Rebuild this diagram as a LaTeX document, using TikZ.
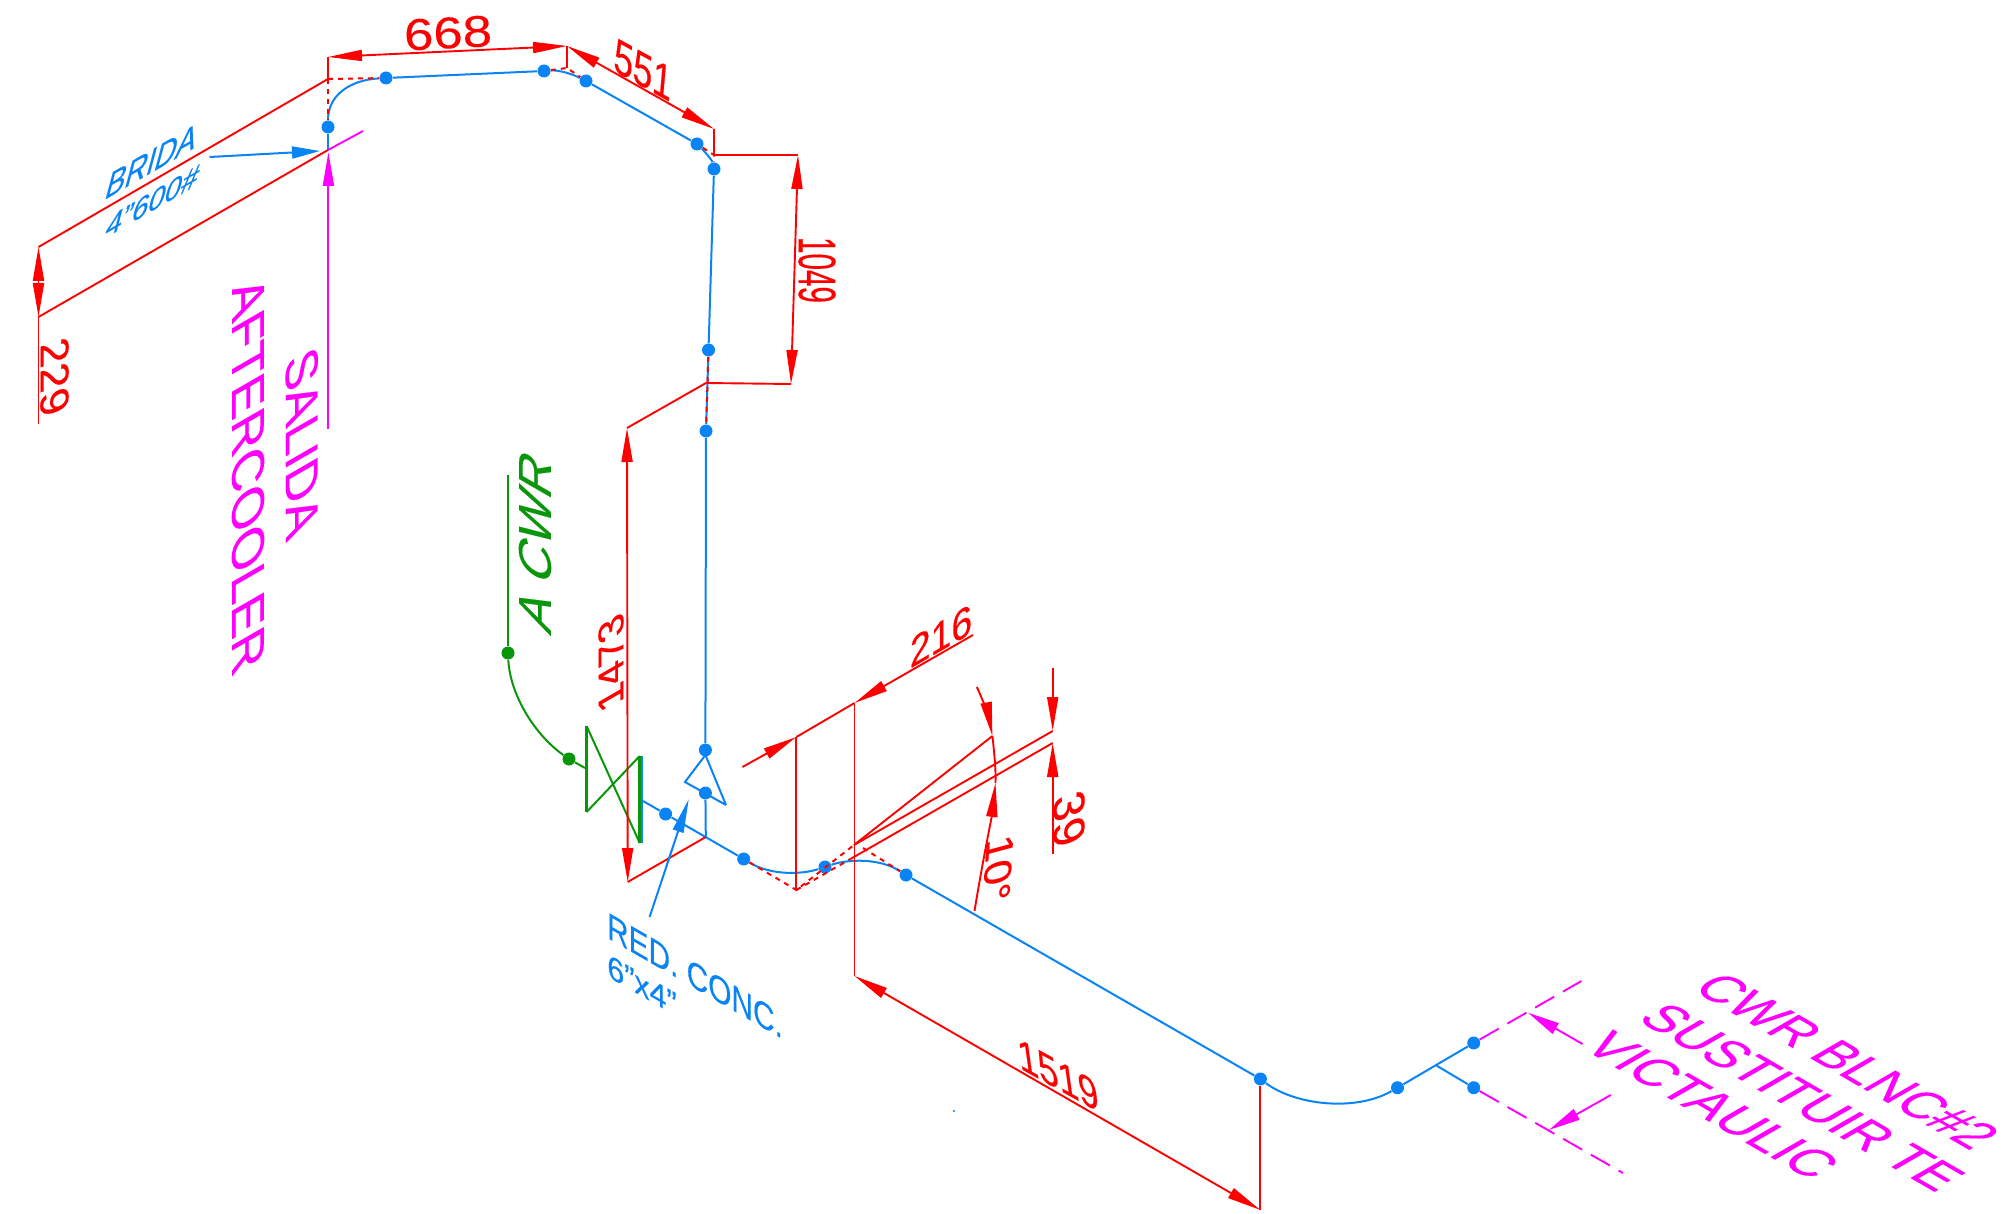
\documentclass[tikz,border=0pt]{standalone}
\usepackage{fontspec}
\usepackage{graphicx}
\setmainfont{Liberation Sans}
\usetikzlibrary{arrows.meta}
\definecolor{pipeblue}{HTML}{0A84F5}
\definecolor{cwrgreen}{HTML}{0A960A}
\definecolor{dimred}{HTML}{FF0000}
\definecolor{magen}{HTML}{FF00FF}
\newdimen\pxu \pxu=0.5pt
% name, colour, centre, baseline angle, up angle, length px, height px, text
\newcommand\lbl[8]{%
  \pgfmathsetmacro\laa{cos(#4)}\pgfmathsetmacro\lbb{sin(#4)}%
  \pgfmathsetmacro\lcc{cos(#5)}\pgfmathsetmacro\ldd{sin(#5)}%
  \node[cm={\laa,\lbb,\lcc,\ldd,(#3)},transform shape,inner sep=0pt,text=#2,font=\addfontfeature{FakeBold=0.3}] (#1) at (0,0) {\resizebox{#6\pxu}{#7\pxu}{#8}};}
\tikzset{
  dimline/.style={draw=dimred,line width=0.95pt},
  dimdot/.style={draw=dimred,line width=1pt,dash pattern=on 2.5pt off 2.5pt},
  pipe/.style={draw=pipeblue,line width=1pt},
  valveline/.style={draw=cwrgreen,line width=1pt},
  note/.style={draw=magen,line width=0.95pt},
  notedash/.style={draw=magen,line width=0.95pt,dash pattern=on 11pt off 5pt},
  bead/.style={circle,fill=pipeblue,inner sep=0pt,minimum size=6.5pt},
  gbead/.style={circle,fill=cwrgreen,inner sep=0pt,minimum size=6.5pt},
}
\begin{document}
\begin{tikzpicture}[x=0.5pt,y=-0.5pt,>={Triangle[length=17pt,width=5.5pt]}]
\useasboundingbox (0,0) rectangle (2003,1214);
% --- beads
\node[bead] (b1) at (328,127) {};
\node[bead] (b2) at (386,78) {};
\node[bead] (b3) at (544,71) {};
\node[bead] (b4) at (586,81) {};
\node[bead] (b5) at (697,144) {};
\node[bead] (b6) at (714,169) {};
\node[bead] (b7) at (708.5,350) {};
\node[bead] (b8) at (706,431) {};
\node[bead] (b9) at (705.4,750) {};
\node[bead] (b10) at (705.4,793) {};
\node[bead] (b11) at (665.6,814) {};
\node[bead] (b12) at (743.7,859) {};
\node[bead] (b13) at (825,867) {};
\node[bead] (b14) at (906,875) {};
\node[bead] (b15) at (1260.4,1079) {};
\node[bead] (b16) at (1397.5,1087.7) {};
\node[bead] (b17) at (1473.7,1043) {};
\node[bead] (b18) at (1473.7,1087.7) {};
\node[gbead] (g1) at (508,653) {};
\node[gbead] (g2) at (569,759) {};
% --- coordinates
\coordinate (fl0) at (328,150);
\coordinate (fl1) at (363,131);
\coordinate (rA) at (38.5,247);
\coordinate (rB) at (38.5,317);
\coordinate (rB2) at (38.5,424);
\coordinate (rC) at (328,79);
\coordinate (rD) at (328,57);
\coordinate (rE) at (567,46);
\coordinate (rF) at (567,68);
\coordinate (rG) at (714,129);
\coordinate (rH) at (714,155);
\coordinate (rI) at (798,155);
\coordinate (rJ) at (791,384);
\coordinate (rK) at (706,383);
\coordinate (rL) at (627,428);
\coordinate (rM) at (627.7,882);
\coordinate (rN) at (705.8,837);
\coordinate (d1) at (742.4,767);
\coordinate (d2) at (796.4,737);
\coordinate (d3) at (854.5,703);
\coordinate (d4) at (973,635);
\coordinate (d5) at (796.4,890);
\coordinate (d6) at (854.5,976);
\coordinate (d7) at (1260.4,1210);
\coordinate (f0) at (854,845);
\coordinate (f1) at (992.4,736);
\coordinate (f2) at (1052.7,731);
\coordinate (f3) at (1052.7,743);
\coordinate (f4) at (850.4,859);
\coordinate (f5) at (863,848);
\coordinate (t1) at (1052.7,668);
\coordinate (t2) at (1052.7,854);
\coordinate (a1) at (976.8,687);
\coordinate (a2) at (995.5,783);
\coordinate (a3) at (974.5,911);
% --- pipe
\draw[pipe] (b1) -- (328,150);
\draw[pipe] (b1) .. controls (328,95) and (350,80) .. (b2);
\draw[pipe] (b2) -- (b3);
\draw[pipe] (b3) .. controls (558,70) and (570,73) .. (b4);
\draw[pipe] (b4) -- (b5);
\draw[pipe] (b5) .. controls (705,152) and (712,160) .. (b6);
\draw[pipe] (b6) -- (b7);
\draw[pipe] (b7) -- (b8);
\draw[pipe] (b8) -- (b9);
\coordinate (pv) at (643,801);
\coordinate (pj) at (705.8,837);
\draw[pipe] (pv) -- (b11);
\draw[pipe] (b11) -- (b12);
\draw[pipe] (b10) -- (pj);
\draw[pipe] (b12) .. controls (770,875) and (800,875) .. (b13);
\draw[pipe] (b13) .. controls (848,859) and (880,858) .. (b14);
\draw[pipe] (b14) -- (b15);
\draw[pipe] (b15) .. controls (1295,1105) and (1355,1112) .. (b16);
\draw[pipe] (b16) -- (b17);
\coordinate (tj) at (1436.7,1065.7);
\draw[pipe] (tj) -- (b18);
% reducer
\coordinate (cA) at (705.4,755);
\coordinate (cB) at (685,782);
\coordinate (cC) at (726,805);
\draw[pipe] (cC) -- (cA) -- (cB) -- (cC);
% --- valve
\coordinate (v1) at (586.6,726);
\coordinate (v2) at (586.6,812);
\coordinate (v3) at (639.7,756);
\coordinate (v4) at (639.7,843);
\coordinate (g3) at (508,475);
\coordinate (g4) at (585,768);
\draw[pipe] (641.7,756) -- (641.7,843);
\draw[valveline,line width=1.8pt] (v1) -- (v2);
\draw[valveline,line width=1.6pt] (v3) -- (v4);
\draw[valveline] (v1) -- (v4);
\draw[valveline] (v2) -- (v3);
\draw[valveline] (g3) -- (g1);
\draw[valveline] (g1) .. controls (510,695) and (535,735) .. (g2);
\draw[valveline] (g2) -- (g4);
% --- dimension lines
\draw[dimline] (rA) -- (rC);
\draw[dimline] (rB) -- (fl0);
\draw[note] (fl0) -- (fl1);
\draw[dimline,<->] (rA) -- (rB);
\draw[dimline] (rB) -- (rB2);
\draw[dimline,<->] (rD) -- (rE);
\draw[dimline] (rD) -- (rC);
\draw[dimdot] (rC) -- (b2);
\draw[dimdot] (rC) -- (b1);
\draw[dimline] (rE) -- (rF);
\draw[dimdot] (b3) -- (rF) -- (b4);
\draw[dimline,<->] (rE) -- (rG);
\draw[dimline] (rG) -- (rH);
\draw[dimdot] (b5) -- (rH) -- (b6);
\draw[dimline] (rH) -- (rI);
\draw[dimline,<->] (rI) -- (rJ);
\draw[dimline] (rJ) -- (rK);
\draw[dimline] (rK) -- (rL);
\draw[dimdot] (b7) -- (b8);
\draw[dimline,<->] (rL) -- (rM);
\draw[dimline] (rM) -- (rN);
% 216
\draw[dimline,->] (d1) -- (d2);
\draw[dimline] (d2) -- (d3);
\draw[dimline,->] (d4) -- (d3);
\draw[dimline] (d2) -- (d5);
\draw[dimline] (d3) -- (d6);
\draw[dimdot] (b12) -- (d5) -- (f0);
\draw[dimdot] (d5) -- (f4);
\draw[dimdot] (f5) -- (b14);
% 1519
\draw[dimline,<->] (d6) -- (d7);
\draw[dimline] (b15) -- (d7);
% fan
\draw[dimline] (f0) -- (f1);
\draw[dimline] (f0) -- (f2);
\draw[dimline] (f4) -- (f3);
\draw[dimline,->] (t1) -- (f2);
\draw[dimline,->] (t2) -- (f3);
\draw[dimline,->] (a1) .. controls (983,700) and (989,718) .. (f1);
\draw[dimline] (f1) .. controls (994,750) and (996,770) .. (a2);
\draw[dimline,->] (a3) .. controls (982,865) and (992,815) .. (a2);
% --- notes
\coordinate (n1) at (328.4,429);
\coordinate (n2) at (328.4,152);
\draw[note,->] (n1) -- (n2);
\coordinate (n3) at (209.5,157);
\coordinate (n4) at (320,151);
\draw[pipe,-{Triangle[length=14pt,width=6pt]}] (n3) -- (n4);
\coordinate (n5) at (649.6,917);
\coordinate (n6) at (688.8,799);
\draw[pipe,->] (n5) -- (n6);
\coordinate (m1) at (1581.4,981);
\coordinate (m2) at (1623,1173);
\draw[notedash] (b17) -- (m1);
\draw[notedash] (b18) -- (m2);
\coordinate (m3) at (1582.5,1044);
\coordinate (m4) at (1528,1012.7);
\coordinate (m5) at (1610.8,1095);
\coordinate (m6) at (1548.8,1130);
\draw[note,-{Triangle[length=16pt,width=6pt]}] (m3) -- (m4);
\draw[note,-{Triangle[length=16pt,width=6pt]}] (m5) -- (m6);
\fill[pipeblue] (954,1111) circle (0.6pt);
% --- texts
\lbl{t668}{dimred}{448,33}{3}{92}{88}{31}{668}
\lbl{t551}{dimred}{643,70}{-29}{85}{66}{33}{551}
\lbl{t1049}{dimred}{817,270}{-90}{0}{66}{37}{1049}
\lbl{t229}{dimred}{54.5,377}{-90}{20}{75}{30}{229}
\lbl{t1473}{dimred}{611,663}{90}{210}{92}{29}{1473}
\lbl{t216}{dimred}{941,636}{30}{90}{72}{30}{216}
\lbl{t39}{dimred}{1069,819}{-90}{20}{52}{33}{39}
\lbl{t10}{dimred}{998,869}{-94}{15}{66}{28}{10°}
\lbl{t1519}{dimred}{1058,1075}{-29}{98}{92}{32}{1519}
\lbl{tbrida}{pipeblue}{152,161}{30}{75}{104}{28}{BRIDA}
\lbl{tbrida2}{pipeblue}{152.7,201}{30}{75}{106}{24}{4"600\#}
\lbl{tred}{pipeblue}{695,975.6}{-30}{90}{203}{26}{RED. CONC.}
\lbl{tred2}{pipeblue}{642,985}{-30}{90}{80}{23}{6"x4"}
\lbl{tcwr}{cwrgreen}{535,541}{90}{150}{172}{37}{A CWR}
\lbl{tsal}{magen}{301.7,443}{-90}{30}{182}{37}{SALIDA}
\lbl{taft}{magen}{248,475}{-90}{30}{389}{37}{AFTERCOOLER}
\lbl{tc1}{magen}{1847,1061}{-30}{30}{324}{37}{CWR BLNC\#2}
\lbl{tc2}{magen}{1802,1097}{-30}{30}{347}{37}{SUSTITUIR TE}
\lbl{tc3}{magen}{1712,1105}{-30}{30}{266}{37}{VICTAULIC}
\end{tikzpicture}
\end{document}
